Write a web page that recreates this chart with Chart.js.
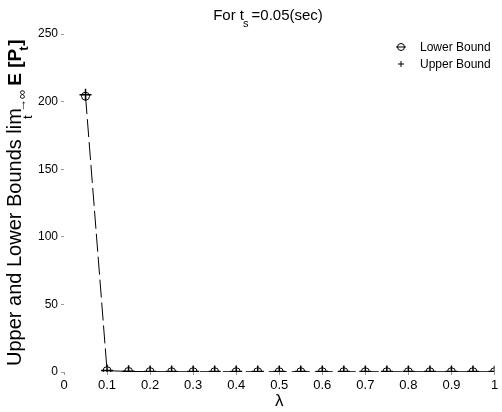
<!DOCTYPE html>
<html>
<head>
<meta charset="utf-8">
<script src="https://cdn.jsdelivr.net/npm/chart.js@4"></script>
<style>
  html, body { margin: 0; padding: 0; background: #fff; }
  #wrap { width: 502px; height: 412px; }
</style>
</head>
<body>
<div id="wrap"><canvas id="ctx_bounds"></canvas></div>
<script>
var lambdas     = [0.05, 0.10, 0.15, 0.20, 0.25, 0.30, 0.35, 0.40, 0.45, 0.50, 0.55, 0.60, 0.65, 0.70, 0.75, 0.80, 0.85, 0.90, 0.95, 1.00];
var lowerBound  = [204, 1.0, 0.4, 0.3, 0.2, 0.2, 0.2, 0.2, 0.2, 0.2, 0.2, 0.2, 0.2, 0.2, 0.2, 0.2, 0.2, 0.2, 0.2, 0.2];
var upperBound  = [205, 1.2, 0.5, 0.4, 0.3, 0.3, 0.3, 0.3, 0.3, 0.3, 0.3, 0.3, 0.3, 0.3, 0.3, 0.3, 0.3, 0.3, 0.3, 0.3];
var xTicks      = [0, 0.1, 0.2, 0.3, 0.4, 0.5, 0.6, 0.7, 0.8, 0.9, 1];
var yTicks      = [0, 50, 100, 150, 200, 250];
var seriesNames = ['Lower Bound', 'Upper Bound'];

var FONT = '"Liberation Sans", Arial, sans-serif';

function toPoints(xs, ys) {
    return xs.map(function(x, i) { return { x: x, y: ys[i] }; });
}

// title, rotated y title and legend drawn by hand (subscripts)
var decorations = {
    id: 'decorations',
    afterDraw: function(chart) {
        var c = chart.ctx;
        c.save();
        c.fillStyle = '#000';
        c.textBaseline = 'alphabetic';

        // title: For t_s=0.05(sec)
        var t1 = 'For t', t2 = 's', t3 = '=0.05(sec)';
        c.font = '15px ' + FONT;
        var w1 = c.measureText(t1).width, w3 = c.measureText(t3).width;
        c.font = '11px ' + FONT;
        var w2 = c.measureText(t2).width + 2;
        var tx = 268 - (w1 + w2 + w3) / 2;
        c.font = '15px ' + FONT;
        c.fillText(t1, tx, 20);
        c.font = '11px ' + FONT;
        c.fillText(t2, tx + w1 - 1, 27);
        c.font = '15px ' + FONT;
        c.fillText(t3, tx + w1 + w2, 20);

        // y title, rotated
        c.save();
        c.translate(21, 366);
        c.rotate(-Math.PI / 2);
        var x = 0;
        c.font = '20px ' + FONT;
        var s = 'Upper and Lower Bounds lim';
        c.fillText(s, x, 0); x += c.measureText(s).width;
        c.font = '13px ' + FONT;
        c.fillText('t', x - 11, 11);
        c.fillText('\u2192\u221E', x - 4, 5);
        x += 17;
        c.font = 'bold 19px ' + FONT;
        s = ' E [P';
        c.fillText(s, x, 0); x += c.measureText(s).width;
        c.font = 'bold 13px ' + FONT;
        c.fillText('t', x - 2, 7); x += 3;
        c.font = 'bold 19px ' + FONT;
        c.fillText(']', x, 0);
        c.restore();

        // legend
        c.font = '12px ' + FONT;
        c.strokeStyle = '#000';
        c.lineWidth = 1;
        var lx = 420, ly = [51, 68];
        seriesNames.forEach(function(name, i) {
            c.fillText(name, lx, ly[i]);
            var mx = 401, my = ly[i] - 4;
            c.beginPath();
            if (i === 0) {
                c.arc(mx, my, 3.5, 0, Math.PI * 2);
                c.moveTo(mx - 5, my); c.lineTo(mx + 5, my);
            } else {
                c.moveTo(mx - 3, my); c.lineTo(mx + 3, my);
                c.moveTo(mx, my - 3); c.lineTo(mx, my + 3);
            }
            c.stroke();
        });
        c.restore();
    }
};

var ctx = document.getElementById('ctx_bounds');
var myChart = new Chart(ctx, {
    type: 'scatter',
    data: {
        datasets: [
            {
                label: seriesNames[0],
                data: toPoints(lambdas, lowerBound),
                showLine: true,
                borderColor: '#000',
                borderWidth: 1,
                borderDash: [18, 5],
                pointStyle: 'circle',
                pointRadius: 4,
                pointBorderWidth: 1,
                pointBorderColor: '#000',
                pointBackgroundColor: 'rgba(255,255,255,0)',
                order: 2
            },
            {
                label: seriesNames[1],
                data: toPoints(lambdas, upperBound),
                showLine: false,
                borderColor: '#000',
                pointStyle: 'cross',
                pointRotation: 0,
                pointRadius: 6,
                pointBorderWidth: 1.5,
                pointBorderColor: '#000',
                order: 1
            }
        ]
    },
    options: {
        responsive: true,
        maintainAspectRatio: false,
        animation: false,
        layout: { padding: { top: 34, right: 1, left: 0, bottom: 0 } },
        plugins: {
            legend: { display: false },
            tooltip: { enabled: false },
            title: { display: false }
        },
        scales: {
            x: {
                type: 'linear',
                min: 0,
                max: 1,
                afterBuildTicks: function(scale) {
                    scale.ticks = xTicks.map(function(v) { return { value: v }; });
                },
                afterFit: function(scale) {
                    scale.height = 40;
                    scale.paddingLeft = 0;
                    scale.paddingRight = 0;
                },
                ticks: {
                    color: '#000',
                    font: { family: FONT, size: 13 },
                    padding: 3,
                    maxRotation: 0,
                    autoSkip: false,
                    callback: function(v) { return String(v); }
                },
                grid: {
                    drawOnChartArea: false,
                    tickLength: 3,
                    color: '#999'
                },
                border: { display: false },
                title: {
                    display: true,
                    text: '\u03BB',
                    color: '#000',
                    font: { family: FONT, size: 17 },
                    padding: { top: 0, bottom: 0 }
                }
            },
            y: {
                type: 'linear',
                min: 0,
                max: 250,
                afterBuildTicks: function(scale) {
                    scale.ticks = yTicks.map(function(v) { return { value: v }; });
                },
                afterFit: function(scale) {
                    scale.width = 64;
                    scale.paddingTop = 0;
                    scale.paddingBottom = 0;
                },
                ticks: {
                    color: '#000',
                    font: { family: FONT, size: 12 },
                    padding: 3
                },
                grid: {
                    drawOnChartArea: false,
                    tickLength: 3,
                    color: '#999'
                },
                border: { display: false }
            }
        }
    },
    plugins: [decorations]
});
</script>
</body>
</html>
